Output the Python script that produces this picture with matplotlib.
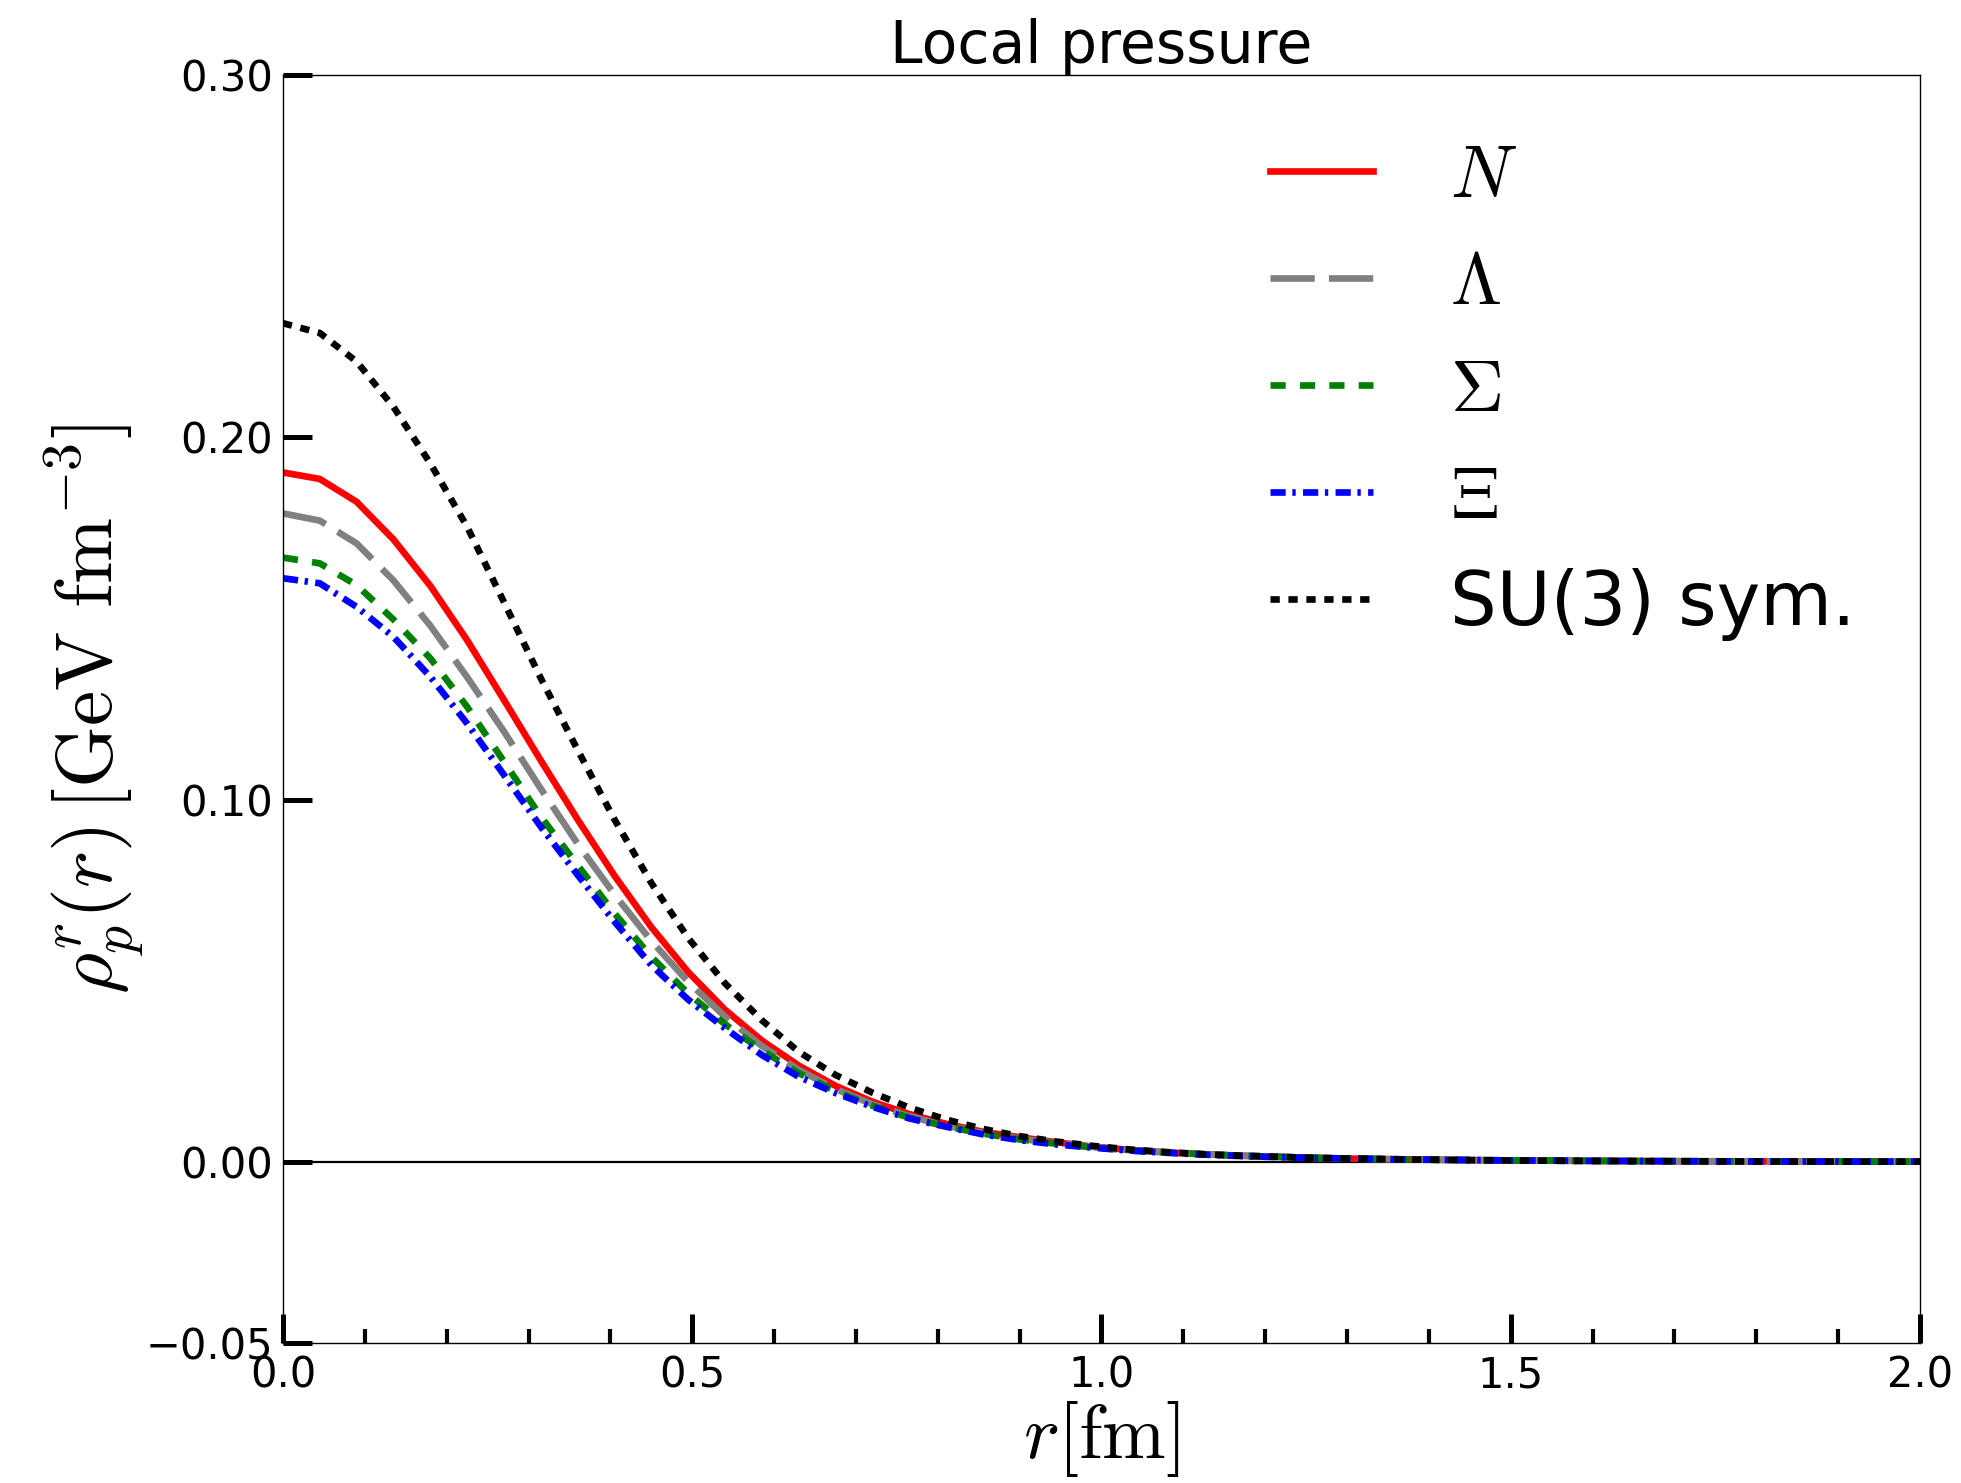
import numpy as np
import matplotlib
matplotlib.use("Agg")
import matplotlib.pyplot as plt

plt.rcParams['mathtext.fontset'] = 'cm'
plt.rcParams['font.family'] = ['DejaVu Sans']

# radial grid [fm]
r = [0.000, 0.045, 0.090, 0.135, 0.180, 0.225, 0.270, 0.315, 0.360, 0.405,
     0.450, 0.495, 0.540, 0.585, 0.630, 0.675, 0.720, 0.765, 0.810, 0.855,
     0.900, 0.945, 0.990, 1.035, 1.080, 1.125, 1.170, 1.215, 1.260, 1.305,
     1.350, 1.395, 1.440, 1.485, 1.530, 1.575, 1.620, 1.665, 1.710, 1.755,
     1.800, 1.845, 1.890, 1.935, 1.980, 2.025]

p_N = [0.1903, 0.1885, 0.1822, 0.1718, 0.1590, 0.1440, 0.1275, 0.1108, 0.0945, 0.0790,
       0.0648, 0.0524, 0.0420, 0.0335, 0.0266, 0.0210, 0.0166, 0.0132, 0.0105, 0.0083,
       0.0068, 0.0054, 0.0042, 0.0033, 0.0026, 0.0021, 0.0017, 0.0014, 0.0011, 0.0009,
       0.00075, 0.00062, 0.00052, 0.00043, 0.00036, 0.00030, 0.00025, 0.00021, 0.00018, 0.00015,
       0.00013, 0.00011, 0.00010, 0.00008, 0.00007, 0.00006]

p_Lambda = [0.1790, 0.1770, 0.1707, 0.1605, 0.1480, 0.1338, 0.1188, 0.1030, 0.0878, 0.0738,
            0.0610, 0.0497, 0.0401, 0.0320, 0.0254, 0.0201, 0.0159, 0.0126, 0.0100, 0.0080,
            0.0064, 0.0051, 0.0041, 0.0032, 0.0026, 0.0021, 0.0017, 0.0014, 0.0011, 0.0009,
            0.00075, 0.00062, 0.00052, 0.00043, 0.00036, 0.00030, 0.00025, 0.00021, 0.00018, 0.00015,
            0.00013, 0.00011, 0.00010, 0.00008, 0.00007, 0.00006]

p_Sigma = [0.1668, 0.1652, 0.1592, 0.1497, 0.1390, 0.1256, 0.1105, 0.0953, 0.0819, 0.0686,
           0.0566, 0.0465, 0.0380, 0.0308, 0.0245, 0.0195, 0.0155, 0.0122, 0.0098, 0.0078,
           0.0062, 0.0050, 0.0040, 0.0032, 0.0026, 0.0021, 0.0017, 0.0014, 0.0011, 0.0009,
           0.00075, 0.00062, 0.00052, 0.00043, 0.00036, 0.00030, 0.00025, 0.00021, 0.00018, 0.00015,
           0.00013, 0.00011, 0.00010, 0.00008, 0.00007, 0.00006]

p_Xi = [0.1611, 0.1597, 0.1532, 0.1449, 0.1339, 0.1210, 0.1068, 0.0925, 0.0792, 0.0663,
        0.0543, 0.0448, 0.0369, 0.0295, 0.0235, 0.0190, 0.0152, 0.0120, 0.0097, 0.0076,
        0.0060, 0.0048, 0.0039, 0.0031, 0.0025, 0.0020, 0.0016, 0.0013, 0.0011, 0.0009,
        0.00075, 0.00062, 0.00052, 0.00043, 0.00036, 0.00030, 0.00025, 0.00021, 0.00018, 0.00015,
        0.00013, 0.00011, 0.00010, 0.00008, 0.00007, 0.00006]

p_SU3 = [0.2315, 0.2288, 0.2209, 0.2084, 0.1928, 0.1753, 0.1545, 0.1335, 0.1137, 0.0945,
         0.0770, 0.0618, 0.0493, 0.0391, 0.0304, 0.0240, 0.0191, 0.0150, 0.0117, 0.0091,
         0.0071, 0.0056, 0.0044, 0.0034, 0.0027, 0.0021, 0.0017, 0.0014, 0.0011, 0.0009,
         0.00074, 0.00060, 0.00050, 0.00041, 0.00034, 0.00028, 0.00023, 0.00019, 0.00016, 0.00013,
         0.00011, 0.00009, 0.00008, 0.00007, 0.00006, 0.00005]

labels = [r'$N$', r'$\Lambda$', r'$\Sigma$', r'$\Xi$', 'SU(3) sym.']
yticks = [-0.05, 0.00, 0.10, 0.20, 0.30]
xticks = [0.0, 0.5, 1.0, 1.5, 2.0]

fig = plt.figure(figsize=(19.61, 14.83), dpi=100)
ax = fig.add_axes([0.1443, 0.0944, 0.8348, 0.8550])

ax.axhline(0.0, color='black', lw=1.6, zorder=1)

lw = 4.8
ax.plot(r, p_N, color='red', lw=lw, ls='-', label=labels[0])
ax.plot(r, p_Lambda, color='grey', lw=lw, ls=(0, (6.64, 2.13)), label=labels[1])
ax.plot(r, p_Sigma, color='green', lw=lw, ls=(0, (2.28, 2.13)), label=labels[2])
ax.plot(r, p_Xi, color='blue', lw=lw, ls=(0, (2.28, 1.0, 0.5, 1.1)), label=labels[3])
ax.plot(r, p_SU3, color='black', lw=lw, ls=(0, (1.39, 1.3)), label=labels[4])

ax.set_xlim(0.0, 2.0)
ax.set_ylim(-0.05, 0.30)
ax.set_xticks(xticks)
ax.set_xticklabels(['%.1f' % v for v in xticks])
ax.set_yticks(yticks)
ax.set_yticklabels(['\u22120.05', '0.00', '0.10', '0.20', '0.30'])
ax.set_xticks(np.arange(0.0, 2.0001, 0.1), minor=True)

ax.tick_params(axis='x', which='major', direction='in', length=21, width=3.6,
               labelsize=30, pad=8, top=False)
ax.tick_params(axis='x', which='minor', direction='in', length=10, width=3.0, top=False)
ax.tick_params(axis='y', which='major', direction='in', length=21, width=3.6,
               labelsize=30, pad=7, right=False)
ax.tick_params(axis='y', which='minor', left=False, right=False)
for s in ax.spines.values():
    s.set_linewidth(1.0)

ax.set_title('Local pressure', fontsize=42, pad=-2)
ax.set_xlabel(r'$r[\mathrm{fm}]$', fontsize=55, labelpad=2)
ax.set_ylabel(r'$\rho_p^r(r)\,[\mathrm{GeV\ fm}^{-3}]$', fontsize=57, labelpad=0)

ax.legend(loc='upper left', bbox_to_anchor=(0.603, 0.9486), frameon=False,
          fontsize=53, handlelength=1.40, handletextpad=1.05, labelspacing=0.46,
          borderpad=0, borderaxespad=0)

fig.savefig('out.png', dpi=100)
